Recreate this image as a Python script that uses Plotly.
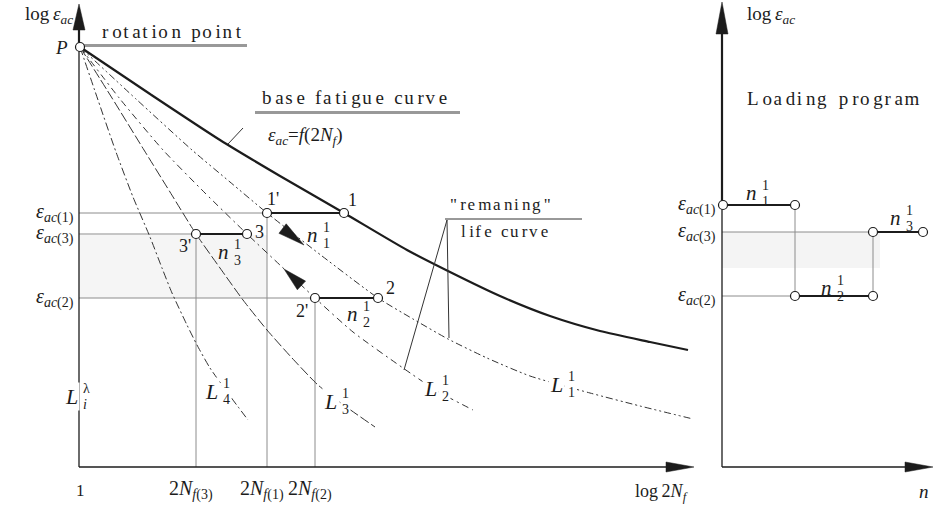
import math
import plotly.graph_objects as go

FONT = "Liberation Serif, Times New Roman, serif"
INK = "#1c1c1c"
GUIDE = "#8c8c8c"

# ---------------- left panel data (drawing units) ----------------
P = [80, 47]                       # rotation point
base_x = [80, 150, 220, 280, 344, 407, 450, 500, 550, 600, 650, 688]
base_y = [47, 94, 140, 176, 213, 250, 272, 296, 316, 331, 342, 350]

L1_x = [80, 136, 192, 230, 267, 322, 378, 413, 448, 487, 530, 590, 640, 693]
L1_y = [47, 99, 150, 182, 213, 256, 298, 319, 339, 358, 376, 393, 406, 419]
L2_x = [80, 120, 163, 205, 247, 281, 315, 353, 403, 437, 473]
L2_y = [47, 99, 150, 193, 234, 266, 298, 332, 368, 391, 410]
L3_x = [80, 112, 144, 170, 196, 220, 243, 267, 292, 318, 345, 375]
L3_y = [47, 98, 150, 192, 234, 268, 300, 330, 358, 385, 406, 427]
L4_x = [80, 98, 116, 133, 150, 162, 172, 187, 197, 210, 230, 248]
L4_y = [47, 100, 152, 197, 237, 268, 293, 325, 345, 368, 396, 420]

eps_names = ["1", "3", "2"]
eps_left = [213, 234, 298]          # log eps levels on left panel
seg_from = [267, 196, 315]          # 1', 3', 2'
seg_to = [344, 247, 378]            # 1, 3, 2
Nf_names = ["3", "1", "2"]
Nf_pos = [196, 267, 315]            # 2N_f(3), 2N_f(1), 2N_f(2)
Nf_top = [234, 213, 298]

# ---------------- right panel data ----------------
eps_right = [205, 232, 296]         # levels 1, 3, 2
prog_level = [205, 296, 232]        # sequence: n1, n2, n3
prog_start = [723, 795, 873]
prog_end = [795, 873, 923]

# axes frames
LX, LY0, LXEND, TOP = 79, 467, 694, 4
RX, RXEND = 722, 933

fig = go.Figure()


def line(xs, ys, color=INK, width=1.0, dash=None):
    fig.add_trace(go.Scatter(x=xs, y=ys, mode="lines", hoverinfo="skip",
                             line=dict(color=color, width=width, dash=dash, shape="spline", smoothing=0.6)))


def poly(xs, ys, color=INK):
    fig.add_trace(go.Scatter(x=xs + [xs[0]], y=ys + [ys[0]], mode="lines", fill="toself",
                             fillcolor=color, line=dict(color=color, width=0.5), hoverinfo="skip"))


def tri(tip, d, length, hw):
    n = math.hypot(*d)
    dx, dy = d[0] / n, d[1] / n
    bx, by = tip[0] - length * dx, tip[1] - length * dy
    px, py = -dy, dx
    poly([tip[0], bx + hw * px, bx - hw * px], [tip[1], by + hw * py, by - hw * py])


# shading
fig.add_shape(type="rect", x0=LX, x1=267, y0=235, y1=298, fillcolor="#f5f5f5", line_width=0, layer="below")
fig.add_shape(type="rect", x0=RX, x1=880, y0=232, y1=268, fillcolor="#f4f4f4", line_width=0, layer="below")

# guides left
gx, gy = [], []
for lev, x0 in zip(eps_left, seg_from):
    gx += [LX, x0, None]; gy += [lev, lev, None]
for x, yt in zip(Nf_pos, Nf_top):
    gx += [x, x, None]; gy += [yt, LY0, None]
# guides right
for lev, xe in zip(eps_right[1:], [873, 795]):
    gx += [RX, xe, None]; gy += [lev, lev, None]
gx += [795, 795, None, 873, 873]; gy += [205, 296, None, 232, 296]
fig.add_trace(go.Scatter(x=gx, y=gy, mode="lines", line=dict(color=GUIDE, width=1), hoverinfo="skip"))

# remaining life curves
line(L4_x, L4_y, "#333", 1.0, "8px,3px,2px,3px")
line(L3_x, L3_y, "#333", 1.0, "10px,3px")
line(L2_x, L2_y, "#333", 1.0, "7px,4px,2px,4px")
line(L1_x, L1_y, "#333", 1.0, "7px,3px,2px,3px,2px,3px")
# base curve
line(base_x, base_y, INK, 2.2)

# thick damage segments
sx, sy = [], []
for lev, a, b in zip(eps_left, seg_from, seg_to):
    sx += [a, b, None]; sy += [lev, lev, None]
for lev, a, b in zip(prog_level, prog_start, prog_end):
    sx += [a, b, None]; sy += [lev, lev, None]
fig.add_trace(go.Scatter(x=sx, y=sy, mode="lines", line=dict(color=INK, width=2), hoverinfo="skip"))

# axes
ax_x = [LX, LX, None, LX, LXEND - 20, None, RX, RX, None, RX, RXEND - 20]
ax_y = [LY0, 28, None, LY0, LY0, None, LY0, 30, None, LY0, LY0]
fig.add_trace(go.Scatter(x=ax_x, y=ax_y, mode="lines", line=dict(color=INK, width=1.3), hoverinfo="skip"))
fig.add_trace(go.Scatter(x=[LX, LX, None, RX, RX], y=[P[1], 28, None, 205, 30], mode="lines",
                         line=dict(color=INK, width=2.2), hoverinfo="skip"))
tri([LX, TOP], [0, -1], 26, 6)
tri([RX, 2], [0, -1], 32, 6)
tri([LXEND, LY0], [1, 0], 28, 5)
tri([RXEND, LY0], [1, 0], 28, 5)

# leader / pointer lines
px_, py_ = [82, 247, None, 255, 460, None, 228, 243, None, 445, 582, None, 447, 404, None, 447, 449], \
           [45, 45, None, 112, 112, None, 144, 128, None, 219, 219, None, 220, 370, None, 220, 338]
fig.add_trace(go.Scatter(x=px_, y=py_, mode="lines", line=dict(color="#333", width=1), hoverinfo="skip"))
fig.add_trace(go.Scatter(x=[82, 247, None, 255, 460], y=[46.5, 46.5, None, 113.5, 113.5], mode="lines",
                         line=dict(color="#999", width=1), hoverinfo="skip"))

# direction arrows
tri([304, 245], [111, 85], 27, 6)
tri([284, 269], [-70, -66], 24, 6)

# circles
cx = [P[0]] + seg_from + seg_to + prog_start + prog_end
cy = [P[1]] + eps_left + eps_left + prog_level + prog_level
fig.add_trace(go.Scatter(x=cx, y=cy, mode="markers", hoverinfo="skip",
                         marker=dict(symbol="circle", size=9, color="white", line=dict(color=INK, width=1.2))))

ann = []


def txt(x, y, s, size=18, xa="center", ya="middle", bg=None):
    d = dict(x=x, y=y, xref="x", yref="y", text=s, showarrow=False, xanchor=xa, yanchor=ya,
             font=dict(family=FONT, size=size, color=INK))
    if bg:
        d["bgcolor"] = bg
    ann.append(d)


def stacked(x, y, main, sup, sub, size=21, bg=None):
    txt(x, y, "<i>%s</i>" % main, size, "right", "middle", bg)
    txt(x + 0.5, y - 8, sup, 14, "left", "middle", bg)
    txt(x + 0.5, y + 8, sub, 14, "left", "middle", bg)


def spaced(s):
    out = ""
    for i, ch in enumerate(s):
        out += ch
        if i < len(s) - 1:
            if ch == " ":
                out += "\u2009"
            else:
                out += "\u2009" if i % 2 == 0 else "\u200a"
    return out


# left labels
txt(75, 15, "log\u2009<i>ε<sub>ac</sub></i>", 19, "right")
txt(70, 47, "<i>P</i>", 19, "right")
txt(100, 31, spaced("rotation point"), 19, "left")
txt(260, 97, spaced("base fatigue curve"), 19, "left")
txt(266, 136, "<i>ε<sub>ac</sub></i>=<i>f</i>(2<i>N<sub>f</sub></i>)", 19, "left")
txt(448, 204, spaced("\"remaning\""), 17, "left")
txt(459, 231, spaced("life curve"), 17, "left")
for name, lev in zip(eps_names, eps_left):
    txt(76, lev, "<i>ε<sub>ac</sub></i><sub>(%s)</sub>" % name, 20, "right")
for name, lev in zip(eps_names, eps_right):
    txt(718, lev, "<i>ε<sub>ac</sub></i><sub>(%s)</sub>" % name, 20, "right")
txt(80, 490, "1", 17)
for name, x in zip(Nf_names, Nf_pos):
    txt(x - 29, 490, "2<i>N<sub>f</sub></i><sub>(%s)</sub>" % name, 20, "left")
txt(690, 492, "log\u20092<i>N<sub>f</sub></i>", 18, "right")

txt(273, 199, "1'", 18)
txt(352, 200, "1", 18)
txt(259, 232, "3", 18)
txt(185, 246, "3'", 18)
txt(390, 288, "2", 18)
txt(302, 311, "2'", 18)
stacked(320, 235, "n", "1", "1")
stacked(231, 252, "n", "1", "3")
stacked(360, 314, "n", "1", "2")

stacked(80, 396, "L", "λ", "<i>i</i>", 22, "white")
stacked(220, 391, "L", "1", "4", 22, "white")
stacked(339, 401, "L", "1", "3", 22, "white")
stacked(439, 388, "L", "1", "2", 22, "white")
stacked(565, 384, "L", "1", "1", 22, "white")

# right labels
txt(745, 15, "log\u2009<i>ε<sub>ac</sub></i>", 19, "left")
txt(745, 98, spaced("Loading program"), 19, "left")
stacked(759, 193, "n", "1", "1")
stacked(903, 218, "n", "1", "3")
stacked(834, 288, "n", "1", "2")
txt(924, 491, "<i>n</i>", 19)

fig.update_layout(
    width=936, height=508, margin=dict(l=0, r=0, t=0, b=0),
    paper_bgcolor="white", plot_bgcolor="white", showlegend=False,
    xaxis=dict(range=[0, 936], visible=False, fixedrange=True),
    yaxis=dict(range=[508, 0], visible=False, fixedrange=True),
    annotations=ann,
)
fig.write_html("out.html", config={"displayModeBar": False},
               post_script="document.body.style.margin='0px';document.body.style.overflow='hidden';")
